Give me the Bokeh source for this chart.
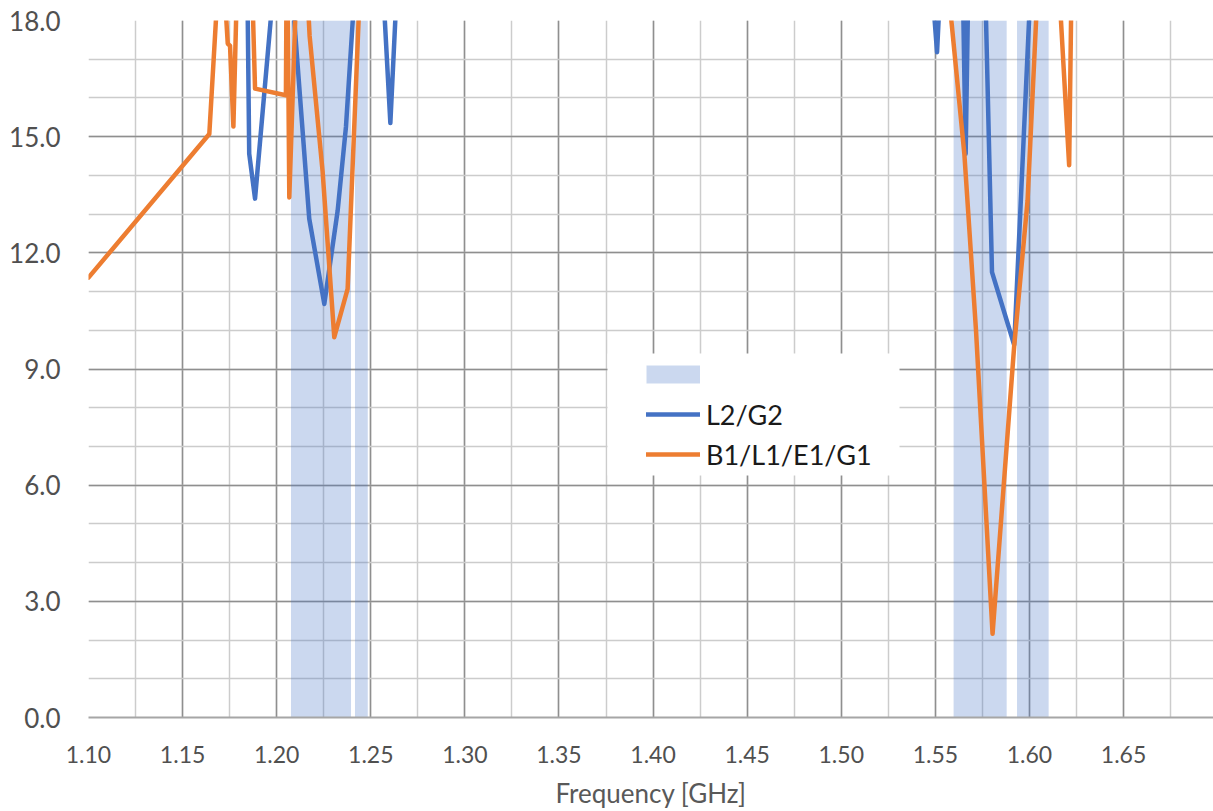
from bokeh.plotting import figure
from bokeh.models import (Range1d, SingleIntervalTicker, NumeralTickFormatter,
                          Legend, LegendItem, BoxAnnotation, ColumnDataSource)
from bokeh.embed import file_html
from bokeh.resources import INLINE

# ---------------- data ----------------
freq_l2 = [1.1000, 1.1500, 1.1843, 1.1854, 1.1885, 1.1995, 1.2070, 1.2173,
           1.2253, 1.2324, 1.2368, 1.2424, 1.2558, 1.2604, 1.2645, 1.3500,
           1.4500, 1.5473, 1.5509, 1.5532, 1.5644, 1.5661, 1.5677, 1.5762,
           1.5801, 1.5919, 1.6012, 1.6500, 1.7000]
val_l2 = [24.0, 23.0, 19.5, 14.56, 13.40, 19.5, 19.5, 12.88,
          10.68, 13.09, 15.25, 19.5, 19.5, 15.35, 19.5, 23.0,
          24.0, 19.5, 17.18, 19.5, 19.5, 14.56, 19.5, 19.5,
          11.50, 9.62, 19.5, 23.0, 24.0]

freq_b1 = [1.1000, 1.1642, 1.1707, 1.1720, 1.1740, 1.1752, 1.1770, 1.1792,
           1.1866, 1.1885, 1.2049, 1.2053, 1.2057, 1.2067, 1.2112, 1.2160,
           1.2175, 1.2244, 1.2306, 1.2377, 1.2452, 1.3000, 1.4500, 1.5555,
           1.5654, 1.5716, 1.5804, 1.5919, 1.5990, 1.6050, 1.6150, 1.6211,
           1.6225, 1.6600, 1.7000]
val_b1 = [11.36, 15.07, 20.5, 19.0, 17.40, 17.35, 15.26, 19.5,
          19.5, 16.24, 16.07, 19.5, 19.5, 13.43, 20.0, 19.0,
          17.60, 14.10, 9.82, 11.07, 20.0, 24.0, 24.0, 19.5,
          14.56, 10.00, 2.16, 9.60, 13.35, 19.5, 19.5, 14.26,
          19.5, 23.0, 24.0]

band_left = [1.2076, 1.2416, 1.5597, 1.5934]
band_right = [1.2395, 1.2484, 1.5879, 1.6102]
band_bottom = [0, 0, 0, 0]
band_top = [18, 18, 18, 18]

series_names = ["L2/G2", "B1/L1/E1/G1"]

# ---------------- styling ----------------
FONT = "Lato"
BLUE = "#4472C4"
ORANGE = "#ED7D31"

p = figure(width=1213, height=811,
           x_range=Range1d(1.10, 1.6978), y_range=Range1d(0, 18),
           output_backend="svg", toolbar_location=None,
           min_border_left=88, min_border_right=0,
           min_border_top=20, min_border_bottom=94)
p.outline_line_color = None
p.background_fill_color = "white"

xt = SingleIntervalTicker(interval=0.05, num_minor_ticks=2)
yt = SingleIntervalTicker(interval=3, num_minor_ticks=3)
p.xaxis.ticker = xt
p.yaxis.ticker = yt
p.xgrid.ticker = xt
p.ygrid.ticker = yt

for g in (p.xgrid, p.ygrid):
    g.grid_line_color = "#8f8f8f"
    g.grid_line_width = 1.5
    g.minor_grid_line_color = "#cccccc"
    g.minor_grid_line_width = 1.5

p.xaxis.formatter = NumeralTickFormatter(format="0.00")
p.yaxis.formatter = NumeralTickFormatter(format="0.0")

for ax in (p.xaxis, p.yaxis):
    ax.major_tick_line_color = None
    ax.minor_tick_line_color = None
    ax.major_label_text_font = FONT
    ax.major_label_text_color = "#505050"

p.xaxis.major_label_text_font_size = "23px"
p.yaxis.major_label_text_font_size = "26px"
p.yaxis.axis_line_color = None
p.yaxis.major_label_standoff = 22
p.xaxis.axis_line_color = "#a6a6a6"
p.xaxis.axis_line_width = 2
p.xaxis.major_label_standoff = 22
p.xaxis.axis_label = "Frequency [GHz]"
p.xaxis.axis_label_text_font = FONT
p.xaxis.axis_label_text_font_size = "26px"
p.xaxis.axis_label_text_font_style = "normal"
p.xaxis.axis_label_text_color = "#595959"
p.xaxis.axis_label_standoff = 11

# bands
bands = p.quad(left=band_left, right=band_right, bottom=band_bottom, top=band_top,
               fill_color=BLUE, fill_alpha=0.28, line_color=None)

# series
src_l2 = ColumnDataSource(dict(x=freq_l2, y=val_l2))
src_b1 = ColumnDataSource(dict(x=freq_b1, y=val_b1))
r_l2 = p.line("x", "y", source=src_l2, line_color=BLUE, line_width=4.5,
              line_join="round", line_cap="round")
r_b1 = p.line("x", "y", source=src_b1, line_color=ORANGE, line_width=4.5,
              line_join="round", line_cap="round")

# legend swatch for the bands (a thick line in the band colour, no visible data)
swatch = p.line(x=band_left[:1], y=[float("nan")], line_color=BLUE, line_alpha=0.28,
                line_width=18, line_cap="butt")

# white legend background
bg = BoxAnnotation(left=519, right=811, bottom=242, top=364,
                   left_units="screen", right_units="screen",
                   top_units="screen", bottom_units="screen",
                   fill_color="white", fill_alpha=1.0, line_color=None)
p.add_layout(bg)

legend = Legend(items=[LegendItem(label="\u00a0", renderers=[swatch]),
                       LegendItem(label=series_names[0], renderers=[r_l2]),
                       LegendItem(label=series_names[1], renderers=[r_b1])],
                location=(558, 243), orientation="vertical",
                padding=0, margin=0, spacing=0,
                glyph_width=54, glyph_height=40, label_height=40,
                label_standoff=6,
                label_text_font=FONT, label_text_font_size="27px",
                label_text_color="#1a1a1a", label_text_baseline="middle",
                border_line_color=None, background_fill_alpha=0.0)
p.add_layout(legend)

open("out.html", "w").write(file_html(p, INLINE))
